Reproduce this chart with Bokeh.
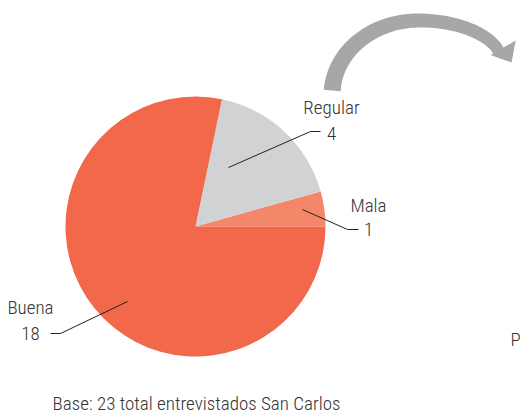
import numpy as np
from bokeh.plotting import figure
from bokeh.models import Range1d, ColumnDataSource
from bokeh.core.properties import value
from bokeh.embed import file_html
from bokeh.resources import INLINE

# ---- data ----
categories = ["Mala", "Regular", "Buena"]
counts = [1, 4, 18]
colors = ["#F4866A", "#D1D2D4", "#F1684A"]
base_note = "Base: 23 total entrevistados San Carlos"

FONT = value("'Roboto Condensed Light', 'Roboto Condensed', 'DejaVu Sans Condensed', Roboto, sans-serif")
TXT = "#333333"
FS = "19px"
DY = -7  # baseline correction

W, H = 520, 420
p = figure(width=W, height=H, x_range=Range1d(0, W), y_range=Range1d(0, H),
           output_backend="svg", toolbar_location=None, min_border=0,
           outline_line_color=None, background_fill_color="white")
p.axis.visible = False
p.grid.visible = False

def Y(sy):
    return H - sy

# ---- pie ----
vals = np.array(counts, dtype=float)
ang = vals / vals.sum() * 2 * np.pi
ends = np.cumsum(ang)
starts = ends - ang
src = ColumnDataSource(dict(start=starts, end=ends, color=colors, cat=categories, n=counts))
cx, cy, R = 195, Y(226), 130
p.wedge(x=cx, y=cy, radius=R, radius_units="screen", start_angle="start", end_angle="end",
        fill_color="color", line_color=None, source=src)

# ---- leader lines and labels ----
leaders = {
    "Regular": [(228, 167), (310, 131), (320, 131)],
    "Mala": [(302, 209), (347, 229), (358, 229)],
    "Buena": [(127, 301), (60, 333), (50, 333)],
}
label_pos = {"Regular": (331, 114, 140), "Mala": (368, 212, 236), "Buena": (30, 314, 340)}
for cat, n in zip(categories, counts):
    pts = leaders[cat]
    p.line([q[0] for q in pts], [Y(q[1]) for q in pts], line_color="#222222", line_width=1)
    x, y1, y2 = label_pos[cat]
    p.text(x=[x], y=[Y(y1 + DY)], text=[cat], text_font=FONT, text_font_size=FS,
           text_color=TXT, text_align="center", text_baseline="alphabetic")
    p.text(x=[x], y=[Y(y2 + DY)], text=[str(n)], text_font=FONT, text_font_size=FS,
           text_color=TXT, text_align="center", text_baseline="alphabetic")

# ---- base note ----
p.text(x=[52], y=[Y(410 + DY)], text=[base_note], text_font=FONT, text_font_size=FS,
       text_color=TXT, text_align="left", text_baseline="alphabetic")

# ---- decorative curved arrow (piecewise elliptical band) ----
def band_edge(th, cxe, cye, a, b, thick):
    ox = cxe + a * np.cos(th)
    oy = cye - b * np.sin(th)
    nx = -np.cos(th) / a
    ny = np.sin(th) / b
    nn = np.hypot(nx, ny)
    nx, ny = nx / nn, ny / nn
    return ox, oy, ox + nx * thick, oy + ny * thick, nx, ny

thL = np.linspace(np.radians(176), np.radians(90), 40)
thR = np.linspace(np.radians(90), np.radians(17), 40)[1:]
tkL = np.interp(thL, [np.radians(90), np.radians(176)], [14, 17])
tkR = np.interp(thR, [np.radians(17), np.radians(90)], [12, 14])
oxL, oyL, ixL, iyL, _, _ = band_edge(thL, 417, 95, 94, 82, tkL)
oxR, oyR, ixR, iyR, nxR, nyR = band_edge(thR, 417, 61, 90, 48, tkR)
ox = np.concatenate([oxL, oxR]); oy = np.concatenate([oyL, oyR])
ix = np.concatenate([ixL, ixR]); iy = np.concatenate([iyL, iyR])
# arrow head
nxe, nye = nxR[-1], nyR[-1]            # inward normal at the end
mx, my = (ox[-1] + ix[-1]) / 2, (oy[-1] + iy[-1]) / 2
th_e = thR[-1]
dx, dy = 90 * np.sin(th_e), 48 * np.cos(th_e)
dn = np.hypot(dx, dy); dx, dy = dx / dn, dy / dn
left = (mx + nxe * 9, my + nye * 9)
right = (mx - nxe * 20, my - nye * 20)
bm = ((left[0] + right[0]) / 2, (left[1] + right[1]) / 2)
tip = (bm[0] + dx * 17, bm[1] + dy * 17)
hx = [right[0], tip[0], left[0]]
hy = [right[1], tip[1], left[1]]
px = list(ox) + hx + list(ix[::-1])
py = list(oy) + hy + list(iy[::-1])
p.patch(px, [Y(v) for v in py], fill_color="#A6A7A9", line_color=None)

# ---- clipped neighbour label ----
p.text(x=[510], y=[Y(346 + DY)], text=["P"], text_font=FONT, text_font_size=FS,
       text_color=TXT, text_align="left", text_baseline="alphabetic")

open("out.html", "w").write(file_html(p, INLINE))
